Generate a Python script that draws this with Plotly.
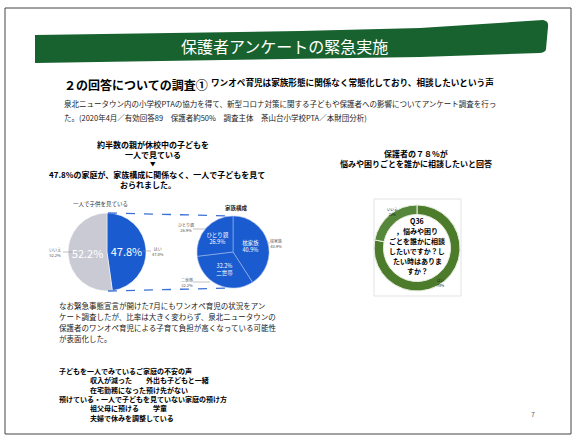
import plotly.graph_objects as go

W, H = 577, 439
FONT = "Noto Sans CJK JP"

# ---- data ----
alone_labels = ["はい", "いいえ"]
alone_values = [47.8, 52.2]
family_labels = ["核家族", "二世帯", "ひとり親"]
family_values = [40.9, 32.2, 26.9]
consult_labels = ["はい", "いいえ"]
consult_values = [78, 22]

title_text = "保護者アンケートの緊急実施"
heading_text = "２の回答についての調査①"
subheading_text = "ワンオペ育児は家族形態に関係なく常態化しており、相談したいという声"
intro_lines = [
    "泉北ニュータウン内の小学校PTAの協力を得て、新型コロナ対策に関する子どもや保護者への影響についてアンケート調査を行っ",
    "た。(2020年4月／有効回答89　保護者約50%　調査主体　茶山台小学校PTA／本財団分析)",
]
left_head_lines = ["約半数の親が休校中の子どもを", "一人で見ている", "▼"]
left_head2 = "47.8%の家庭が、家族構成に関係なく、一人で子どもを見て"
left_head3 = "おられました。"
right_head_lines = ["保護者の７８%が", "悩みや困りごとを誰かに相談したいと回答"]
donut_center_lines = ["Q36", "，悩みや困り", "ごとを誰かに相談", "したいですか？し", "たい時はありま", "すか？"]
note_lines = [
    "なお緊急事態宣言が開けた7月にもワンオペ育児の状況をアン",
    "ケート調査したが、比率は大きく変わらず、泉北ニュータウンの",
    "保護者のワンオペ育児による子育て負担が高くなっている可能性",
    "が表面化した。",
]
voice_lines = [
    ("子どもを一人でみているご家庭の不安の声", 0),
    ("収入が減った　　外出も子どもと一緒", 1),
    ("在宅勤務になった預け先がない", 1),
    ("預けている・一人で子どもを見ていない家庭の預け方", 0),
    ("祖父母に預ける　　学童", 1),
    ("夫婦で休みを調整している", 1),
]
page_no = "7"

BLUE = "#1a5bd0"
GRAY = "#c9cad4"
GREEN = "#17622f"
DGREEN = "#4c7b2c"
DGREEN2 = "#55863a"


def dom(cx, cy, r):
    return dict(x=[(cx - r) / W, (cx + r) / W], y=[1 - (cy + r) / H, 1 - (cy - r) / H])


fig = go.Figure()

# left pie
fig.add_trace(go.Pie(
    labels=alone_labels, values=alone_values, sort=False, direction="clockwise", rotation=0,
    marker=dict(colors=[BLUE, GRAY], line=dict(color="white", width=0.5)),
    texttemplate="%{value:.1f}%", textposition="inside", insidetextorientation="horizontal",
    textfont=dict(color="white", size=11, family=FONT), showlegend=False,
    domain=dom(107, 252, 39), hoverinfo="label+value",
))

# right pie
fam_text = [f"{family_labels[0]}<br>{family_values[0]}%",
            f"{family_values[1]}%<br>{family_labels[1]}",
            f"{family_labels[2]}<br>{family_values[2]}%"]
fig.add_trace(go.Pie(
    labels=family_labels, values=family_values, sort=False, direction="clockwise", rotation=0,
    marker=dict(colors=[BLUE, BLUE, BLUE], line=dict(color="#9db8ea", width=0.6)),
    text=fam_text, texttemplate="%{text}", textposition="inside", insidetextorientation="horizontal",
    textfont=dict(color="white", size=5.5, family=FONT), showlegend=False,
    domain=dom(233, 252, 36), hoverinfo="label+value",
))

# donut
fig.add_trace(go.Pie(
    labels=consult_labels, values=consult_values, sort=False, direction="clockwise", rotation=0,
    hole=0.78, marker=dict(colors=[DGREEN, DGREEN2], line=dict(color="#e8eedf", width=1)),
    textinfo="none", showlegend=False,
    domain=dom(417, 248, 43), hoverinfo="label+value",
))

shapes = []
ann = []

def T(x, y, s, size, color="black", bold=False, anchor="left", fam=FONT):
    ann.append(dict(x=x, y=y, xref="x", yref="y", text=(f"<b>{s}</b>" if bold else s),
                    showarrow=False, xanchor=anchor, yanchor="middle",
                    font=dict(size=size, color=color, family=fam)))

# page border
shapes.append(dict(type="rect", x0=5, y0=8, x1=571, y1=434, xref="x", yref="y",
                   line=dict(color="#444444", width=1)))
# banner
shapes.append(dict(type="path", xref="x", yref="y",
                   path="M35,35 L300,31 L420,28 L543,20 Q549,21 548,27 L546,49 Q546,52 540,53 L420,57 L35,63 Z",
                   fillcolor=GREEN, line=dict(width=0)))
T(284, 46, title_text, 16, "white", anchor="center")

# headings
T(62, 84, heading_text, 12, bold=True)
T(209, 82, subheading_text, 8.6, bold=True)
T(62, 103, intro_lines[0], 7.5, "#222222")
T(62, 117, intro_lines[1], 7.5, "#222222")

# left header
T(153, 144, left_head_lines[0], 8, bold=True, anchor="center")
T(153, 154, left_head_lines[1], 8, bold=True, anchor="center")
T(153, 164, left_head_lines[2], 5.5, bold=True, anchor="center")
T(47, 174, left_head2, 8, bold=True)
T(148, 184, left_head3, 8, bold=True, anchor="center")

# pie titles
T(100, 204, "一人で子供を見ている", 5.5, "#333333", anchor="center")
T(236, 208, "家族構成", 5.5, "#222222", bold=True, anchor="center")

def small_label(x, y, name, val, lx0, ly0, lx1, ly1, anchor="center"):
    T(x, y, f"{name}<br>{val}%", 4, "#555555", anchor=anchor)
    shapes.append(dict(type="line", x0=lx0, y0=ly0, x1=lx1, y1=ly1, xref="x", yref="y",
                       line=dict(color="#999999", width=0.6)))

small_label(55, 252, alone_labels[1], alone_values[1], 63, 252, 73, 252)
small_label(158, 251, alone_labels[0], alone_values[0], 143, 251, 151, 251)
small_label(186, 227, family_labels[2], family_values[2], 193, 229, 206, 229)
small_label(276, 243, family_labels[0], family_values[0], 267, 243, 270, 243)
small_label(187, 282, family_labels[1], family_values[1], 193, 282, 210, 282)

# dashed connectors
for y0, y1 in [(213, 216), (291, 288)]:
    shapes.append(dict(type="line", x0=108, y0=y0, x1=233, y1=y1, xref="x", yref="y",
                       line=dict(color="#3a6fd4", width=1.3, dash="dash")))

# right header
T(416, 153, right_head_lines[0], 8, bold=True, anchor="center")
T(416, 163, right_head_lines[1], 8, bold=True, anchor="center")

# donut box + center text + labels
shapes.append(dict(type="rect", x0=374, y0=199, x1=461, y1=296, xref="x", yref="y",
                   line=dict(color="#e3e3e3", width=1)))
for i, s in enumerate(donut_center_lines):
    T(417, 221 + i * 10, s, 7, bold=True, anchor="center")
T(392, 212, f"{consult_labels[1]}<br>{consult_values[1]}%", 3.5, "#222222", anchor="center")
T(441, 283, f"{consult_labels[0]}<br>{consult_values[0]}%", 3.5, "#222222", anchor="center")

# notes
for i, s in enumerate(note_lines):
    T(57, 305 + i * 11, s, 7.5, "#222222")
for i, (s, ind) in enumerate(voice_lines):
    T(57 + 31 * ind, 371 + i * 9.3, s, 7, bold=True)

T(533, 414, page_no, 7, "#666666", anchor="center")

fig.update_layout(
    width=W, height=H, margin=dict(l=0, r=0, t=0, b=0),
    paper_bgcolor="white", plot_bgcolor="white",
    xaxis=dict(range=[0, W], visible=False, fixedrange=True),
    yaxis=dict(range=[H, 0], visible=False, fixedrange=True),
    shapes=shapes, annotations=ann, showlegend=False,
    font=dict(family=FONT),
)
fig.write_html("out.html")
